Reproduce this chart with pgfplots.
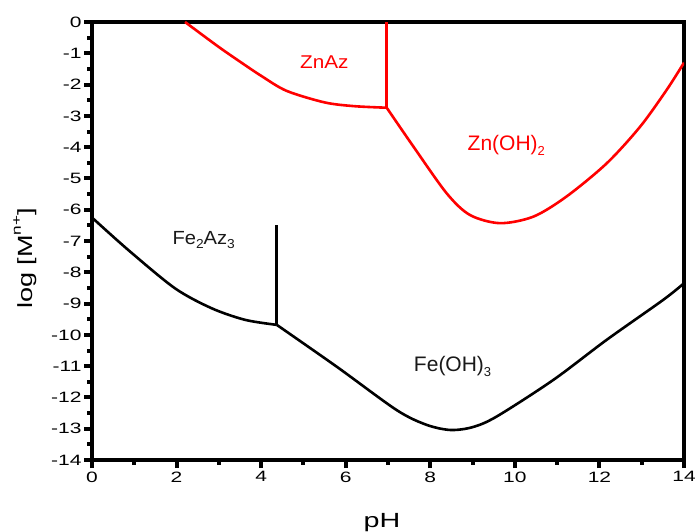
\documentclass[border=0pt]{standalone}
\usepackage{fontspec}
\setmainfont{Liberation Sans}
\newfontfamily\axfont{Liberation Sans}[FakeStretch=1.4]
\newfontfamily\ylfont{Liberation Sans}[FakeStretch=1.32]
\newfontfamily\znfont{Liberation Sans}[FakeStretch=1.12]
\newfontfamily\fefont{Liberation Sans}[FakeStretch=1.06]
\usepackage{pgfplots}
\pgfplotsset{compat=1.18}
\definecolor{zred}{RGB}{255,0,0}
\newcommand{\sub}[1]{\raisebox{-0.45ex}{\fontsize{13}{13}\selectfont #1}}
\begin{document}
\begin{tikzpicture}
\begin{axis}[
  scale only axis, width=592pt, height=438pt,
  xmin=0, xmax=14, ymin=-14, ymax=0,
  xtick={0,2,...,14}, ytick={-14,-13,...,0},
  xticklabels={0,2,4,6,8,10,12,14},
  yticklabels={-14,-13,-12,-11,-10,-9,-8,-7,-6,-5,-4,-3,-2,-1,0},
  minor x tick num=1, minor y tick num=1,
  xtick pos=left, ytick pos=left,
  tick align=outside,
  major tick length=8pt, minor tick length=4.5pt,
  every major tick/.append style={line width=4pt, black},
  every minor tick/.append style={line width=3.5pt, black},
  xtick style={line width=4pt},
  ytick style={line width=4pt},
  axis line style={line width=4pt},
  /pgf/number format/assume math mode=true,
  xticklabel style={font=\axfont\fontsize{15}{17}\selectfont},
  yticklabel style={font=\axfont\fontsize{15}{17}\selectfont, xshift=1pt},
  xlabel={pH},
  ylabel={log [M\raisebox{1.1ex}{\fontsize{13}{13}\selectfont n+}]},
  xlabel style={font=\axfont\fontsize{20.5}{22}\selectfont, at={(axis description cs:0.49,-0.153)}, anchor=base},
  ylabel style={font=\ylfont\fontsize{20.5}{22}\selectfont, at={(axis description cs:-0.113,0.46)}, anchor=center},
]
% Zn curves
\addplot[zred, line width=2.6pt, smooth, tension=0.5] coordinates {
 (2.2,0) (3.0,-0.8) (3.6,-1.36) (4.0,-1.72) (4.6,-2.2) (5.5,-2.57) (6.2,-2.69) (6.97,-2.74)};
\addplot[zred, line width=2.6pt] coordinates {(6.97,0) (6.97,-2.74)};
\addplot[zred, line width=2.6pt, smooth, tension=0.5] coordinates {
 (6.97,-2.74) (7.6,-3.98) (8.39,-5.48) (8.94,-6.17) (9.65,-6.43) (10.44,-6.22)
 (11.22,-5.58) (12.17,-4.52) (12.96,-3.35) (13.59,-2.17) (14,-1.3)};
% Fe curves
\addplot[black, line width=2.6pt, smooth, tension=0.5] coordinates {
 (0,-6.25) (0.86,-7.29) (1.96,-8.51) (2.83,-9.15) (3.62,-9.52) (4.37,-9.68)};
\addplot[black, line width=2.6pt] coordinates {(4.37,-6.49) (4.37,-9.68)};
\addplot[black, line width=2.6pt, smooth, tension=0.5] coordinates {
 (4.37,-9.68) (5.79,-11.02) (7.2,-12.4) (7.9,-12.87) (8.47,-13.04) (9.0,-12.95)
 (9.57,-12.61) (10.91,-11.44) (12.17,-10.16) (13.51,-8.88) (14,-8.35)};
% labels
\node[anchor=base west, inner sep=0, text=zred, font=\znfont\fontsize{18.5}{20}\selectfont] at (axis cs:4.92,-1.50) {ZnAz};
\node[anchor=base west, inner sep=0, text=zred, font=\fontsize{21}{22}\selectfont] at (axis cs:8.88,-4.12) {Zn(OH)\sub{2}};
\node[anchor=base west, inner sep=0, text=black!90, font=\fefont\fontsize{19}{20}\selectfont] at (axis cs:1.90,-7.10) {Fe\sub{2}Az\sub{3}};
\node[anchor=base west, inner sep=0, text=black!90, font=\fontsize{21}{22}\selectfont] at (axis cs:7.61,-11.18) {Fe(OH)\sub{3}};
\coordinate (sw) at (rel axis cs:0,0);
\coordinate (ne) at (rel axis cs:1,1);
\end{axis}
\pgfresetboundingbox
\path[use as bounding box] ([shift={(-92pt,-71pt)}]sw) rectangle ([shift={(11pt,22pt)}]ne);
\end{tikzpicture}
\end{document}
